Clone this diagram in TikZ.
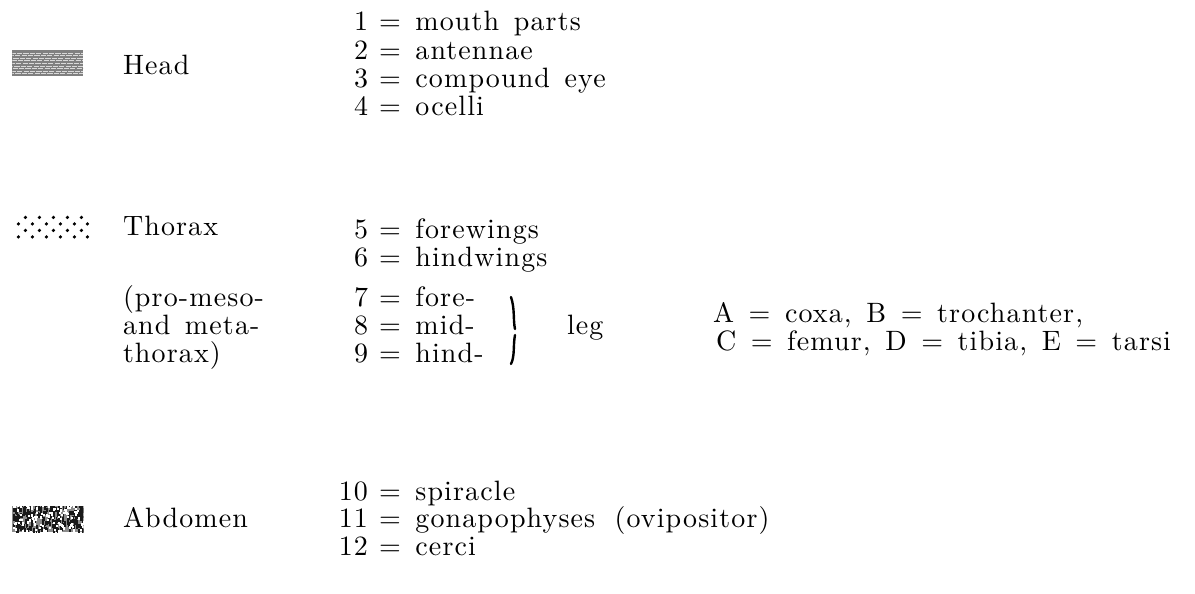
\documentclass[tikz,border=0pt]{standalone}
\usepackage{fontspec}
\setmainfont{lmroman10-regular.otf}[LetterSpace=4,WordSpace=1.4]
\usetikzlibrary{positioning}
\tikzset{
  base/.style={
    inner sep=0pt,
    outer sep=0pt,
    font=\fontsize{14}{16}\selectfont,
  },
  label-text/.style={
    base,
    anchor=base west,
  },
  number/.style={
    base,
    anchor=base east,
  },
  swatch/.style={
    inner sep=0pt,
    anchor=north west,
    minimum width=35.5pt,
    minimum height=13pt,
  },
  stroke/.style={
    line width=1.2pt,
    line cap=round,
  },
}

\begin{document}
\begin{tikzpicture}[x=0.5pt,y=-0.5pt]
  \useasboundingbox (0,0) rectangle (1195,594);

  % Head
  \node[swatch, fill=black!50, path picture={
      \foreach \i in {1,...,9}
        \draw[white!85!black, line width=0.45pt, dash pattern=on 2.6pt off 0.6pt, dash phase=\i*0.9pt]
          ([yshift=-\i*1.3pt]path picture bounding box.north west)
          -- ([yshift=-\i*1.3pt]path picture bounding box.north east);
    }] (head-swatch) at (12,50) {};
  \node[label-text] (head) at (123,75) {Head};
  \foreach \n/\txt [count=\k] in {1/mouth parts, 2/antennae, 3/compound eye, 4/ocelli} {
    \node[number] (num-\n) at (368,{3+28*\k}) {\n};
    \node[label-text] (part-\n) at (379,{3+28*\k}) {= \txt};
  }

  % Thorax
  \node[swatch, minimum width=37.5pt, path picture={
      \foreach \dy in {2,15}
        \foreach \dx in {10,24,38,52,66}
          \fill ([shift={(\dx,\dy)}]path picture bounding box.north west) circle (0.9pt);
      \foreach \dy in {8.5,21.5}
        \foreach \dx in {3,17,31,45,59,72}
          \fill ([shift={(\dx,\dy)}]path picture bounding box.north west) circle (0.9pt);
    }] (thorax-swatch) at (15,215) {};
  \node[label-text] (thorax) at (123,235) {Thorax};
  \foreach \y/\txt [count=\k] in {306/{(pro-meso-}, 334/{and meta-}, 362/{thorax)}}
    \node[label-text] (thorax-note-\k) at (123,\y) {\txt};
  \foreach \n/\txt/\y in {5/forewings/238, 6/hindwings/266, 7/fore-/306, 8/mid-/334, 9/hind-/362} {
    \node[number] (num-\n) at (368,\y) {\n};
    \node[label-text] (part-\n) at (379,\y) {= \txt};
  }

  % leg brace
  \draw[stroke] (511,297) .. controls (515,309) and (513,320) .. (515,329);
  \draw[stroke] (515,335) .. controls (513,345) and (515,356) .. (511,364);
  \node[label-text] (leg) at (567,334) {leg};
  \node[label-text] (leg-top) at (713,322) {A = coxa, B = trochanter,};
  \node[label-text] (leg-bottom) at (716,350) {C = femur, D = tibia, E = tarsi};

  % Abdomen
  \node[swatch, fill=black!45, path picture={
      \pgfmathsetseed{42}
      \foreach \i in {1,...,240} {
        \pgfmathsetmacro\rx{rnd*71}
        \pgfmathsetmacro\ry{rnd*27}
        \fill[black!90] ([shift={(\rx,\ry)}]path picture bounding box.north west) rectangle +(0.9pt,2.2pt);
      }
      \foreach \i in {1,...,110} {
        \pgfmathsetmacro\rx{rnd*71}
        \pgfmathsetmacro\ry{rnd*27}
        \fill[white] ([shift={(\rx,\ry)}]path picture bounding box.north west) rectangle +(1pt,1.2pt);
      }
    }] (abdomen-swatch) at (12,506) {};
  \node[label-text] (abdomen) at (123,527) {Abdomen};
  \foreach \n/\txt/\y in {10/spiracle/500, 11/{gonapophyses\ \,(ovipositor)}/527, 12/cerci/555} {
    \node[number] (num-\n) at (368,\y) {\n};
    \node[label-text] (part-\n) at (379,\y) {= \txt};
  }
\end{tikzpicture}
\end{document}
